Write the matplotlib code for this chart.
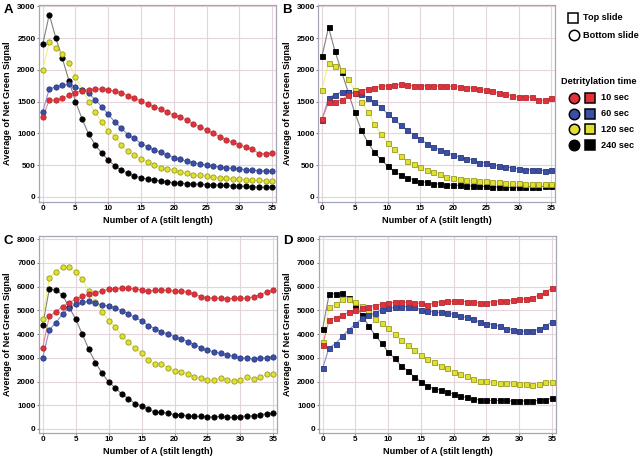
import numpy as np
import matplotlib.pyplot as plt

plt.rcParams['font.family'] = ['Liberation Sans', 'DejaVu Sans']

# stilt length 0..35
n_a = np.arange(36)

# panel A - bottom slide, circles
a_10 = [1250, 1530, 1520, 1550, 1600, 1640, 1670, 1690, 1700, 1700, 1690, 1660, 1640, 1590, 1550, 1510, 1460, 1420,
        1380, 1330, 1290, 1250, 1210, 1150, 1100, 1050, 1000, 950, 900, 860, 820, 780, 750, 680, 680, 690]
a_60 = [1340, 1700, 1730, 1760, 1770, 1730, 1690, 1630, 1530, 1420, 1300, 1180, 1080, 980, 920, 840, 790, 740,
        700, 660, 620, 590, 560, 540, 520, 500, 490, 470, 460, 450, 440, 430, 420, 415, 410, 410]
a_120 = [2000, 2440, 2340, 2250, 2100, 1890, 1690, 1500, 1330, 1180, 1040, 950, 820, 720, 660, 600, 550, 510,
         460, 440, 420, 390, 370, 350, 340, 330, 320, 300, 290, 285, 280, 270, 265, 260, 255, 250]
a_240 = [2400, 2870, 2500, 2180, 1830, 1500, 1230, 990, 820, 690, 580, 490, 420, 370, 330, 300, 280, 265,
         250, 235, 225, 215, 210, 205, 200, 195, 190, 185, 180, 175, 170, 165, 160, 155, 150, 150]

# panel B - top slide, squares
b_10 = [1220, 1490, 1490, 1530, 1600, 1640, 1670, 1700, 1720, 1740, 1750, 1760, 1770, 1760, 1750, 1750, 1750, 1745,
        1745, 1740, 1740, 1730, 1720, 1710, 1700, 1680, 1660, 1640, 1620, 1590, 1570, 1570, 1570, 1530, 1520, 1560]
b_60 = [1210, 1560, 1610, 1650, 1650, 1640, 1620, 1560, 1490, 1410, 1310, 1220, 1130, 1050, 980, 910, 840, 790,
        740, 700, 660, 630, 600, 580, 540, 540, 500, 490, 470, 460, 440, 430, 425, 420, 415, 420]
b_120 = [1690, 2110, 2060, 2000, 1850, 1680, 1500, 1340, 1150, 990, 850, 750, 650, 570, 520, 470, 420, 390,
         360, 320, 300, 280, 265, 260, 250, 245, 240, 230, 220, 215, 215, 210, 210, 205, 205, 205]
b_240 = [2210, 2670, 2290, 1970, 1650, 1330, 1050, 860, 700, 590, 490, 400, 350, 300, 270, 240, 230, 210,
         200, 190, 185, 180, 175, 170, 165, 165, 160, 155, 150, 150, 155, 155, 160, 160, 165, 165]

# panel C - bottom slide, circles
c_10 = [3430, 4750, 4940, 5160, 5320, 5460, 5590, 5680, 5740, 5820, 5880, 5910, 5930, 5930, 5910, 5860, 5800, 5840,
        5860, 5850, 5820, 5800, 5760, 5680, 5580, 5520, 5520, 5510, 5490, 5500, 5500, 5530, 5560, 5660, 5780, 5850]
c_60 = [3010, 4180, 4480, 4840, 5100, 5250, 5330, 5380, 5290, 5230, 5180, 5100, 4990, 4850, 4700, 4560, 4360, 4230,
        4090, 4000, 3890, 3790, 3680, 3540, 3430, 3310, 3250, 3190, 3120, 3060, 3000, 2980, 2950, 2980, 3000, 3050]
c_120 = [4650, 6380, 6630, 6830, 6830, 6630, 6300, 5800, 5350, 4950, 4570, 4300, 3920, 3650, 3400, 3200, 2900, 2740,
         2740, 2590, 2440, 2400, 2320, 2180, 2140, 2070, 2050, 2140, 2070, 2040, 2060, 2200, 2100, 2170, 2300, 2330]
c_240 = [4400, 5900, 5850, 5650, 5130, 4630, 4000, 3350, 2800, 2350, 1980, 1730, 1470, 1280, 1070, 970, 840, 700,
         700, 660, 600, 600, 560, 530, 530, 510, 510, 530, 490, 490, 510, 560, 550, 600, 640, 660]

# panel D - top slide, squares
d_10 = [3530, 4600, 4680, 4800, 4920, 5000, 5080, 5160, 5200, 5260, 5310, 5330, 5340, 5340, 5320, 5290, 5220, 5310,
        5360, 5380, 5380, 5380, 5370, 5350, 5300, 5320, 5360, 5380, 5390, 5420, 5460, 5480, 5530, 5640, 5780, 5930]
d_60 = [2560, 3430, 3600, 3910, 4180, 4420, 4660, 4790, 4880, 5030, 5090, 5120, 5160, 5150, 5120, 5030, 4960, 4930,
        4910, 4880, 4830, 4760, 4700, 4620, 4500, 4440, 4400, 4330, 4230, 4180, 4130, 4110, 4120, 4200, 4350, 4500]
d_120 = [3670, 5120, 5260, 5460, 5480, 5340, 5170, 4950, 4650, 4470, 4240, 4000, 3730, 3550, 3310, 3120, 2950, 2810,
         2660, 2550, 2390, 2310, 2220, 2100, 2010, 2010, 1980, 1940, 1920, 1920, 1900, 1910, 1840, 1880, 1960, 1990]
d_240 = [4210, 5680, 5700, 5720, 5500, 5200, 4800, 4360, 3950, 3620, 3240, 2970, 2660, 2450, 2200, 1990, 1820, 1680,
         1650, 1570, 1460, 1380, 1330, 1270, 1220, 1210, 1200, 1200, 1200, 1170, 1190, 1180, 1160, 1220, 1230, 1300]

times = ["10 sec", "60 sec", "120 sec", "240 sec"]
face = ["#e4303a", "#3a4fa8", "#e0e030", "#000000"]
edge = ["#b02a2e", "#28367a", "#9a9a20", "#000000"]
linec = ["#f08080", "#8890d0", "#f0f080", "#808080"]

panels = [
    ("A", [0.061, 0.558, 0.371, 0.431], [a_10, a_60, a_120, a_240], "o", (-80, 3020), np.arange(0, 3001, 500)),
    ("B", [0.498, 0.558, 0.371, 0.431], [b_10, b_60, b_120, b_240], "s", (-80, 3020), np.arange(0, 3001, 500)),
    ("C", [0.061, 0.0525, 0.373, 0.431], [c_10, c_60, c_120, c_240], "o", (-170, 8130), np.arange(0, 8001, 1000)),
    ("D", [0.499, 0.0525, 0.371, 0.431], [d_10, d_60, d_120, d_240], "s", (-170, 8130), np.arange(0, 8001, 1000)),
]

fig = plt.figure(figsize=(6.39, 4.57), dpi=100)

for letter, pos, series, mk, ylim, yt in panels:
    ax = fig.add_axes(pos)
    # draw black first, red last like the original
    for k in [3, 2, 1, 0]:
        ax.plot(n_a, series[k], color=linec[k], lw=0.8, zorder=2)
        ax.plot(n_a, series[k], ls="none", marker=mk, ms=3.8 if mk == "o" else 3.6,
                mfc=face[k], mec=edge[k], mew=0.6, zorder=3)
    ax.set_xlim(-0.57, 35.6)
    ax.set_ylim(*ylim)
    ax.set_xticks(np.arange(0, 36, 5))
    ax.set_yticks(yt)
    ax.grid(True, color="#e4d4dc", lw=0.8)
    ax.set_axisbelow(True)
    for s in ax.spines.values():
        s.set_color("#a8a4b8")
        s.set_linewidth(0.9)
    ax.tick_params(labelsize=5.8, length=1.5, color="#808080", pad=1)
    for lab in ax.get_xticklabels() + ax.get_yticklabels():
        lab.set_fontweight("bold")
    ax.set_xlabel("Number of A (stilt length)", fontsize=6.6, fontweight="bold", labelpad=2.5)
    ax.set_ylabel("Average of Net Green Signal", fontsize=6.6, fontweight="bold", labelpad=3.5)
    fig.text(pos[0] - 0.056, pos[1] + pos[3] + 0.003, letter, fontsize=9.5, fontweight="bold",
             va="top", ha="left")

# legend on the right, drawn in figure coords (axes spans pixel 0..639 x 0..457)
lg = fig.add_axes([0, 0, 1, 1])
lg.set_xlim(0, 639)
lg.set_ylim(457, 0)
lg.axis("off")
lg.plot([573], [18], marker="s", ms=7.5, mfc="white", mec="black", mew=1.1)
lg.text(583, 18, "Top slide", fontsize=6.6, fontweight="bold", va="center")
lg.plot([574], [35], marker="o", ms=7.5, mfc="white", mec="black", mew=1.1)
lg.text(583, 35, "Bottom slide", fontsize=6.6, fontweight="bold", va="center")
lg.text(561, 82, "Detritylation time", fontsize=6.6, fontweight="bold", va="center")
for k in range(4):
    yy = 98 + k * 15.7
    lg.plot([574], [yy], marker="o", ms=7.5, mfc=face[k], mec="black", mew=1.1)
    lg.plot([590], [yy], marker="s", ms=7.2, mfc=face[k], mec="black", mew=1.1)
    lg.text(601, yy, times[k], fontsize=6.6, fontweight="bold", va="center")

fig.savefig("out.png", dpi=100)
